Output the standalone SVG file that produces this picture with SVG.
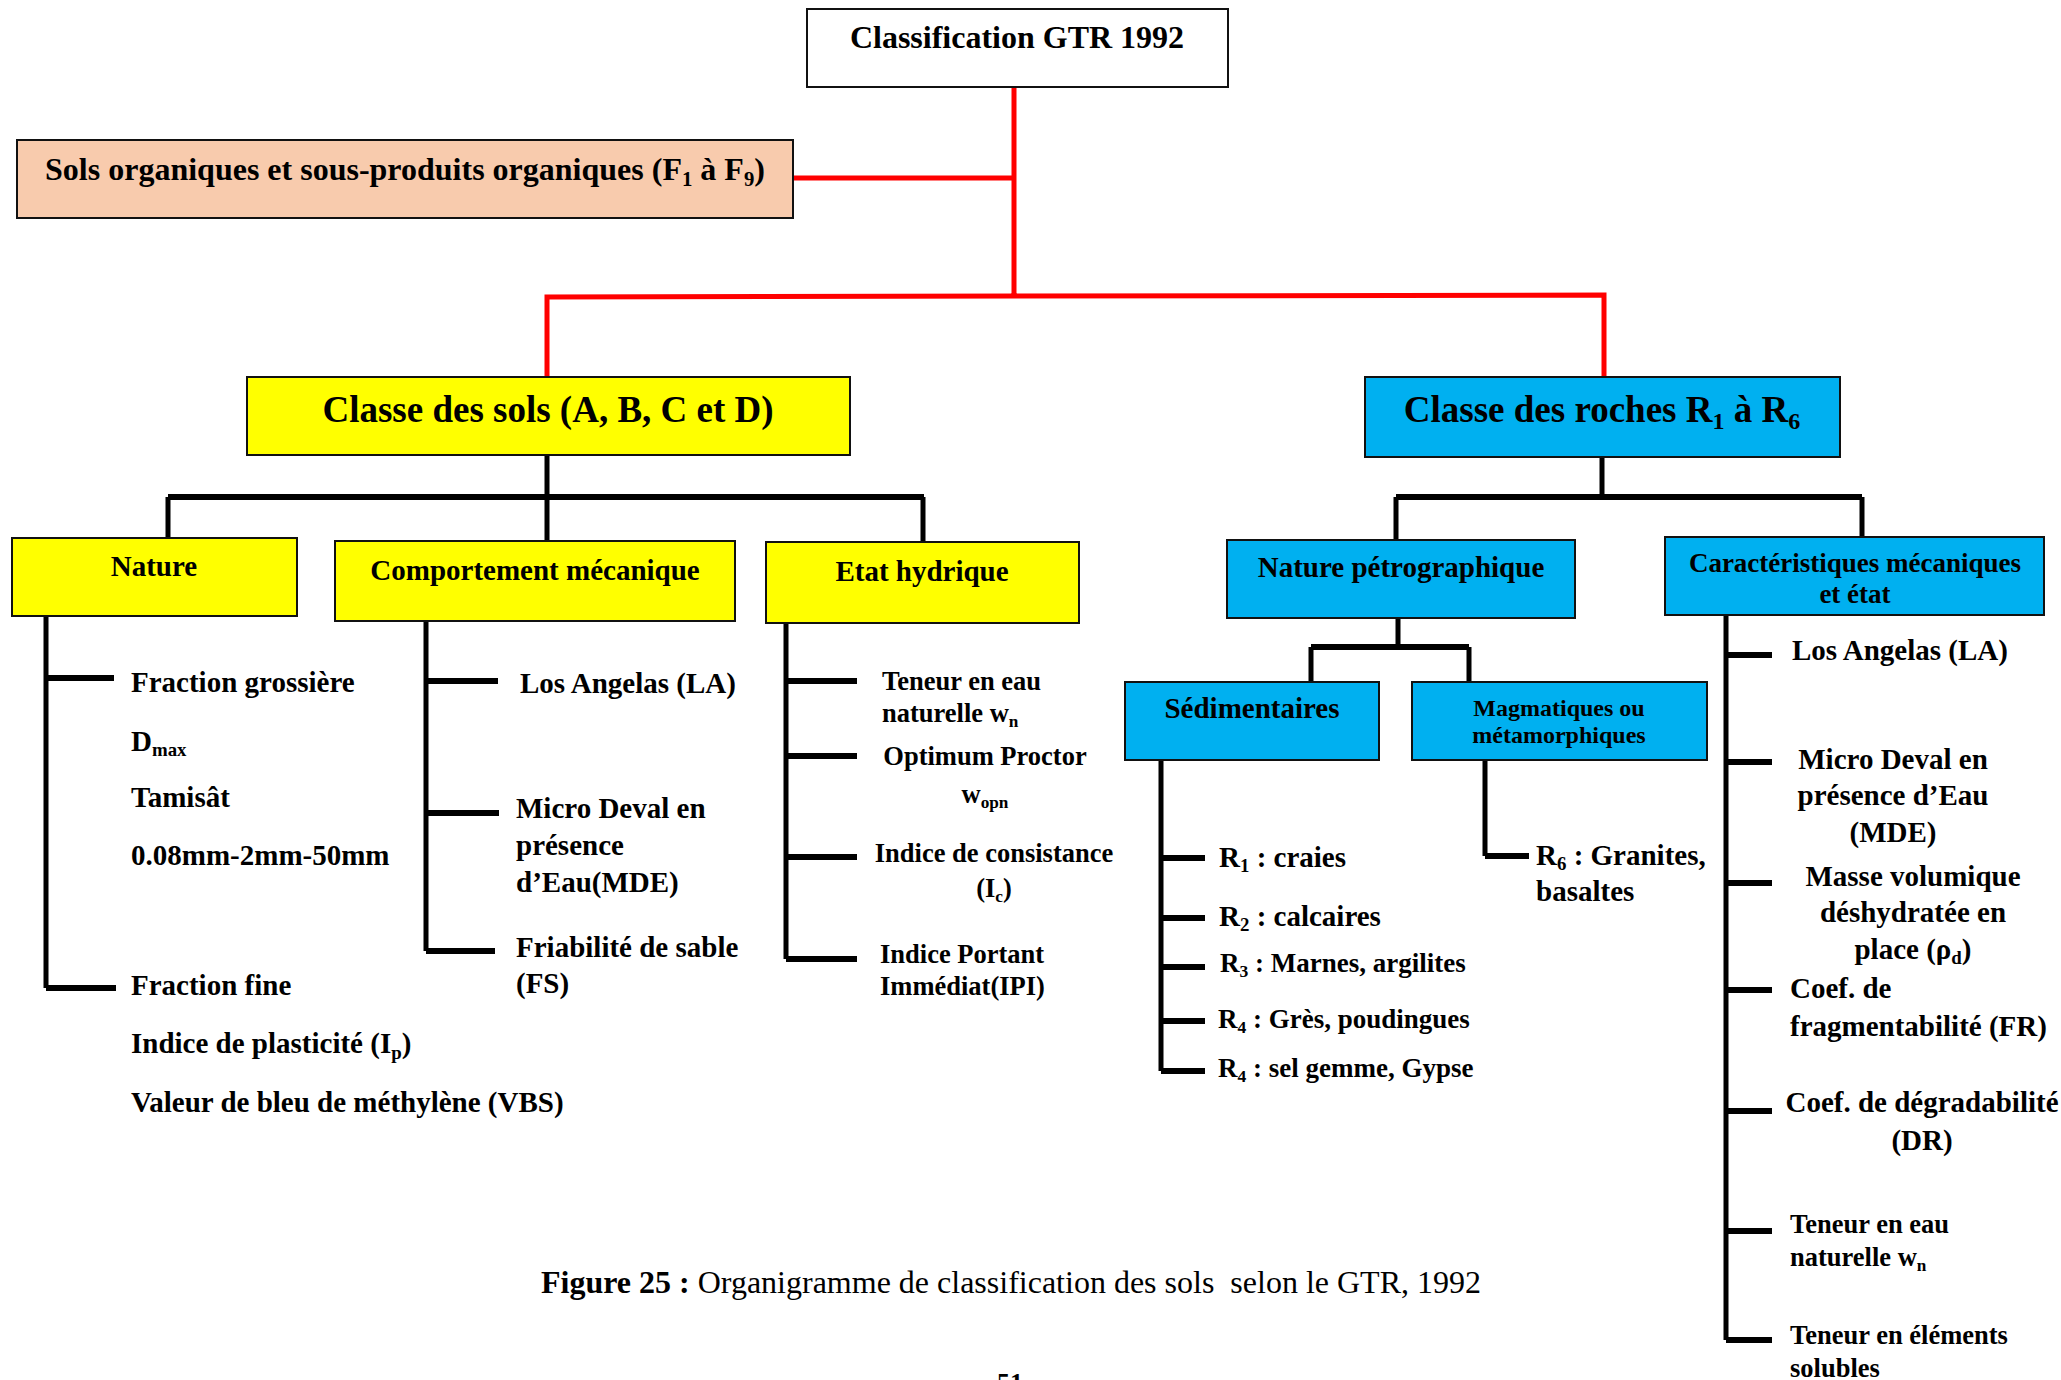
<svg xmlns="http://www.w3.org/2000/svg" width="2061" height="1380" viewBox="0 0 2061 1380">
<style>
.t{font-family:"Liberation Serif","Times New Roman",serif;font-weight:bold;fill:#000}
.m{text-anchor:middle}
.s37{font-size:37px}.s32{font-size:32px}.s29{font-size:29px}.s27{font-size:27px}.s26{font-size:26.5px}.s24{font-size:24px}
.sub{font-size:0.65em}
.box{stroke:#111;stroke-width:2}
.red{stroke:#FF0000;stroke-width:5;fill:none}
.blk{stroke:#000;stroke-width:5;fill:none}
.bus{stroke:#000;stroke-width:6;fill:none}
.tick{stroke:#000;stroke-width:6;fill:none}
</style>
<rect width="2061" height="1380" fill="#fff"/>
<g id="connectors">
<path class="red" d="M1014 87 V297 M793 178 H1014 M547 377 V297 L1604 295 V377"/>
<path class="blk" d="M547 455 V541 M168 497 V538 M923 497 V542"/>
<path class="bus" d="M168 497 H924"/>
<path class="blk" d="M46 616 V988 M426 621 V951 M786 623 V959"/>
<path class="tick" d="M46 678 H114 M46 988 H116 M426 681 H498 M426 813 H499 M426 951 H495 M786 681 H857 M786 756 H857 M786 857 H857 M786 959 H857"/>
<path class="blk" d="M1602 457 V497 M1396 497 V540 M1862 497 V537 M1398 618 V647 M1311 647 V682 M1469 647 V682"/>
<path class="bus" d="M1396 497 H1862 M1311 647 H1469"/>
<path class="blk" d="M1161 760 V1071 M1485 760 V856 M1726 615 V1340"/>
<path class="tick" d="M1161 858 H1205 M1161 918 H1205 M1161 967 H1205 M1161 1021 H1205 M1161 1071 H1205 M1485 856 H1529 M1726 655 H1772 M1726 762 H1772 M1726 883 H1772 M1726 990 H1772 M1726 1111 H1772 M1726 1231 H1772 M1726 1340 H1772"/>
</g>
<g id="n-gtr"><rect class="box" x="807" y="9" width="421" height="78" fill="#fff"/><text class="t m s32" x="1017" y="48">Classification GTR 1992</text></g>
<g id="n-organiques"><rect class="box" x="17" y="140" width="776" height="78" fill="#F8CBAD"/><text class="t m s32" x="405" y="180">Sols organiques et sous-produits organiques (F<tspan class="sub" dy="6">1</tspan><tspan dy="-6"> à F</tspan><tspan class="sub" dy="6">9</tspan><tspan dy="-6">)</tspan></text></g>
<g id="n-sols"><rect class="box" x="247" y="377" width="603" height="78" fill="#FFFF00"/><text class="t m s37" x="548" y="422">Classe des sols (A, B, C et D)</text></g>
<g id="n-roches"><rect class="box" x="1365" y="377" width="475" height="80" fill="#00B0F0"/><text class="t m s37" x="1602" y="422">Classe des roches R<tspan class="sub" dy="7">1</tspan><tspan dy="-7"> à R</tspan><tspan class="sub" dy="7">6</tspan></text></g>
<g id="n-nature"><rect class="box" x="12" y="538" width="285" height="78" fill="#FFFF00"/><text class="t m s29" x="154" y="576">Nature</text></g>
<g id="n-comportement"><rect class="box" x="335" y="541" width="400" height="80" fill="#FFFF00"/><text class="t m s29" x="535" y="580">Comportement mécanique</text></g>
<g id="n-etat"><rect class="box" x="766" y="542" width="313" height="81" fill="#FFFF00"/><text class="t m s29" x="922" y="581">Etat hydrique</text></g>
<g id="n-petro"><rect class="box" x="1227" y="540" width="348" height="78" fill="#00B0F0"/><text class="t m s29" x="1401" y="577">Nature pétrographique</text></g>
<g id="n-caract"><rect class="box" x="1665" y="537" width="379" height="78" fill="#00B0F0"/><text class="t m s27" x="1855" y="572">Caractéristiques mécaniques</text><text class="t m s27" x="1855" y="603">et état</text></g>
<g id="n-sedim"><rect class="box" x="1125" y="682" width="254" height="78" fill="#00B0F0"/><text class="t m s29" x="1252" y="718">Sédimentaires</text></g>
<g id="n-magma"><rect class="box" x="1412" y="682" width="295" height="78" fill="#00B0F0"/><text class="t m s24" x="1559" y="716">Magmatiques ou</text><text class="t m s24" x="1559" y="743">métamorphiques</text></g>
<g id="l-nature">
<text class="t s29" x="131" y="692">Fraction grossière</text>
<text class="t s29" x="131" y="751">D<tspan class="sub" dy="5">max</tspan></text>
<text class="t s29" x="131" y="807">Tamisât</text>
<text class="t s29" x="131" y="865">0.08mm-2mm-50mm</text>
<text class="t s29" x="131" y="995">Fraction fine</text>
<text class="t s29" x="131" y="1053">Indice de plasticité (I<tspan class="sub" dy="6">p</tspan><tspan dy="-6">)</tspan></text>
<text class="t s29" x="131" y="1112">Valeur de bleu de méthylène (VBS)</text>
</g>
<g id="l-comportement">
<text class="t s29" x="520" y="693">Los Angelas (LA)</text>
<text class="t s29" x="516" y="818">Micro Deval en</text>
<text class="t s29" x="516" y="855">présence</text>
<text class="t s29" x="516" y="892">d’Eau(MDE)</text>
<text class="t s29" x="516" y="957">Friabilité de sable</text>
<text class="t s29" x="516" y="993">(FS)</text>
</g>
<g id="l-etat">
<text class="t s26" x="882" y="690">Teneur en eau</text>
<text class="t s26" x="882" y="722">naturelle w<tspan class="sub" dy="5">n</tspan></text>
<text class="t m s26" x="985" y="765">Optimum Proctor</text>
<text class="t m s26" x="985" y="803">w<tspan class="sub" dy="5">opn</tspan></text>
<text class="t m s26" x="994" y="862">Indice de consistance</text>
<text class="t m s26" x="994" y="897">(I<tspan class="sub" dy="5">c</tspan><tspan dy="-5">)</tspan></text>
<text class="t s26" x="880" y="963">Indice Portant</text>
<text class="t s26" x="880" y="995">Immédiat(IPI)</text>
</g>
<g id="l-sedim">
<text class="t s29" x="1219" y="867">R<tspan class="sub" dy="5">1</tspan><tspan dy="-5"> : craies</tspan></text>
<text class="t s29" x="1219" y="926">R<tspan class="sub" dy="5">2</tspan><tspan dy="-5"> : calcaires</tspan></text>
<text class="t s27" x="1220" y="972">R<tspan class="sub" dy="5">3</tspan><tspan dy="-5"> : Marnes, argilites</tspan></text>
<text class="t s27" x="1218" y="1028">R<tspan class="sub" dy="5">4</tspan><tspan dy="-5"> : Grès, poudingues</tspan></text>
<text class="t s27" x="1218" y="1077">R<tspan class="sub" dy="5">4</tspan><tspan dy="-5"> : sel gemme, Gypse</tspan></text>
</g>
<g id="l-magma">
<text class="t s29" x="1536" y="865">R<tspan class="sub" dy="5">6</tspan><tspan dy="-5"> : Granites,</tspan></text>
<text class="t s29" x="1536" y="901">basaltes</text>
</g>
<g id="l-caract">
<text class="t s29" x="1792" y="660">Los Angelas (LA)</text>
<text class="t m s29" x="1893" y="769">Micro Deval en</text>
<text class="t m s29" x="1893" y="805">présence d’Eau</text>
<text class="t m s29" x="1893" y="842">(MDE)</text>
<text class="t m s29" x="1913" y="886">Masse volumique</text>
<text class="t m s29" x="1913" y="922">déshydratée en</text>
<text class="t m s29" x="1913" y="959">place (ρ<tspan class="sub" dy="5">d</tspan><tspan dy="-5">)</tspan></text>
<text class="t s29" x="1790" y="998">Coef. de</text>
<text class="t s29" x="1790" y="1036">fragmentabilité (FR)</text>
<text class="t m s29" x="1922" y="1112">Coef. de dégradabilité</text>
<text class="t m s29" x="1922" y="1150">(DR)</text>
<text class="t s26" x="1790" y="1233">Teneur en eau</text>
<text class="t s26" x="1790" y="1266">naturelle w<tspan class="sub" dy="5">n</tspan></text>
<text class="t s26" x="1790" y="1344">Teneur en éléments</text>
<text class="t s26" x="1790" y="1377">solubles</text>
</g>
<g id="caption">
<text class="t s32" x="541" y="1293" style="font-weight:normal;white-space:pre" xml:space="preserve"><tspan font-weight="bold">Figure 25 :</tspan> Organigramme de classification des sols  selon le GTR, 1992</text>
<text class="t m" x="1010" y="1391" style="font-size:26px">51</text>
</g>
</svg>
